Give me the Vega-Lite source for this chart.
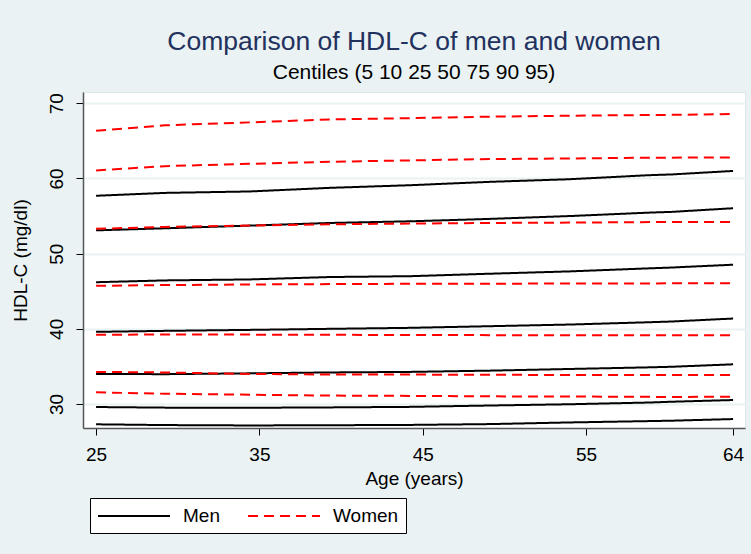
{
  "$schema": "https://vega.github.io/schema/vega-lite/v6.json",
  "width": 662,
  "height": 336,
  "autosize": {"type": "none"},
  "padding": {"left": 83, "top": 92, "right": 6, "bottom": 126},
  "background": "#EAF2F3",
  "title": {
    "text": "Comparison of HDL-C of men and women",
    "subtitle": "Centiles (5 10 25 50 75 90 95)",
    "font": "Liberation Sans, sans-serif",
    "subtitleFont": "Liberation Sans, sans-serif",
    "fontSize": 26.5,
    "fontWeight": "normal",
    "color": "#22315E",
    "subtitleFontSize": 21,
    "subtitleColor": "#000000",
    "subtitlePadding": 7,
    "anchor": "middle",
    "offset": 9
  },
  "config": {
    "view": {"fill": "#FFFFFF", "stroke": "#DDE7EA", "strokeWidth": 1},
    "font": "Liberation Sans, sans-serif",
    "axis": {
      "labelFont": "Liberation Sans, sans-serif",
      "titleFont": "Liberation Sans, sans-serif",
      "labelFontSize": 19,
      "titleFontSize": 19,
      "titleFontWeight": "normal",
      "labelColor": "#000000",
      "titleColor": "#000000",
      "domainColor": "#555555",
      "domainWidth": 1.5,
      "tickColor": "#000000",
      "tickSize": 7,
      "tickWidth": 1
    },
    "legend": {
      "labelFont": "Liberation Sans, sans-serif",
      "labelFontSize": 19,
      "labelColor": "#000000"
    }
  },
  "data": {
    "values": [
      {"sex": "Men", "centile": 95, "age": 25, "hdl": 57.7},
      {"sex": "Men", "centile": 95, "age": 29.2, "hdl": 58.08},
      {"sex": "Men", "centile": 95, "age": 34.4, "hdl": 58.27},
      {"sex": "Men", "centile": 95, "age": 39.3, "hdl": 58.75},
      {"sex": "Men", "centile": 95, "age": 44.2, "hdl": 59.1},
      {"sex": "Men", "centile": 95, "age": 49.1, "hdl": 59.55},
      {"sex": "Men", "centile": 95, "age": 54, "hdl": 59.9},
      {"sex": "Men", "centile": 95, "age": 58.9, "hdl": 60.44},
      {"sex": "Men", "centile": 95, "age": 60.2, "hdl": 60.53},
      {"sex": "Men", "centile": 95, "age": 64, "hdl": 61.0},
      {"sex": "Men", "centile": 90, "age": 25, "hdl": 53.1},
      {"sex": "Men", "centile": 90, "age": 29.2, "hdl": 53.37},
      {"sex": "Men", "centile": 90, "age": 34.4, "hdl": 53.73},
      {"sex": "Men", "centile": 90, "age": 39.3, "hdl": 54.08},
      {"sex": "Men", "centile": 90, "age": 44.2, "hdl": 54.3},
      {"sex": "Men", "centile": 90, "age": 49.1, "hdl": 54.62},
      {"sex": "Men", "centile": 90, "age": 54, "hdl": 55.0},
      {"sex": "Men", "centile": 90, "age": 58.9, "hdl": 55.46},
      {"sex": "Men", "centile": 90, "age": 60.2, "hdl": 55.55},
      {"sex": "Men", "centile": 90, "age": 64, "hdl": 56.04},
      {"sex": "Men", "centile": 75, "age": 25, "hdl": 46.2},
      {"sex": "Men", "centile": 75, "age": 29.2, "hdl": 46.44},
      {"sex": "Men", "centile": 75, "age": 34.4, "hdl": 46.57},
      {"sex": "Men", "centile": 75, "age": 39.3, "hdl": 46.89},
      {"sex": "Men", "centile": 75, "age": 44.2, "hdl": 47.0},
      {"sex": "Men", "centile": 75, "age": 49.1, "hdl": 47.33},
      {"sex": "Men", "centile": 75, "age": 54, "hdl": 47.64},
      {"sex": "Men", "centile": 75, "age": 58.9, "hdl": 48.05},
      {"sex": "Men", "centile": 75, "age": 60.2, "hdl": 48.15},
      {"sex": "Men", "centile": 75, "age": 64, "hdl": 48.53},
      {"sex": "Men", "centile": 50, "age": 25, "hdl": 39.6},
      {"sex": "Men", "centile": 50, "age": 29.2, "hdl": 39.73},
      {"sex": "Men", "centile": 50, "age": 34.4, "hdl": 39.86},
      {"sex": "Men", "centile": 50, "age": 39.3, "hdl": 40.0},
      {"sex": "Men", "centile": 50, "age": 44.2, "hdl": 40.13},
      {"sex": "Men", "centile": 50, "age": 49.1, "hdl": 40.35},
      {"sex": "Men", "centile": 50, "age": 54, "hdl": 40.57},
      {"sex": "Men", "centile": 50, "age": 58.9, "hdl": 40.88},
      {"sex": "Men", "centile": 50, "age": 60.2, "hdl": 40.97},
      {"sex": "Men", "centile": 50, "age": 64, "hdl": 41.37},
      {"sex": "Men", "centile": 25, "age": 25, "hdl": 34.0},
      {"sex": "Men", "centile": 25, "age": 29.2, "hdl": 33.97},
      {"sex": "Men", "centile": 25, "age": 34.4, "hdl": 34.08},
      {"sex": "Men", "centile": 25, "age": 39.3, "hdl": 34.2},
      {"sex": "Men", "centile": 25, "age": 44.2, "hdl": 34.27},
      {"sex": "Men", "centile": 25, "age": 49.1, "hdl": 34.44},
      {"sex": "Men", "centile": 25, "age": 54, "hdl": 34.66},
      {"sex": "Men", "centile": 25, "age": 58.9, "hdl": 34.88},
      {"sex": "Men", "centile": 25, "age": 60.2, "hdl": 34.95},
      {"sex": "Men", "centile": 25, "age": 64, "hdl": 35.28},
      {"sex": "Men", "centile": 10, "age": 25, "hdl": 29.6},
      {"sex": "Men", "centile": 10, "age": 29.2, "hdl": 29.52},
      {"sex": "Men", "centile": 10, "age": 34.4, "hdl": 29.5},
      {"sex": "Men", "centile": 10, "age": 39.3, "hdl": 29.55},
      {"sex": "Men", "centile": 10, "age": 44.2, "hdl": 29.62},
      {"sex": "Men", "centile": 10, "age": 49.1, "hdl": 29.8},
      {"sex": "Men", "centile": 10, "age": 54, "hdl": 29.97},
      {"sex": "Men", "centile": 10, "age": 58.9, "hdl": 30.2},
      {"sex": "Men", "centile": 10, "age": 60.2, "hdl": 30.3},
      {"sex": "Men", "centile": 10, "age": 64, "hdl": 30.53},
      {"sex": "Men", "centile": 5, "age": 25, "hdl": 27.3},
      {"sex": "Men", "centile": 5, "age": 29.2, "hdl": 27.2},
      {"sex": "Men", "centile": 5, "age": 34.4, "hdl": 27.15},
      {"sex": "Men", "centile": 5, "age": 39.3, "hdl": 27.18},
      {"sex": "Men", "centile": 5, "age": 44.2, "hdl": 27.22},
      {"sex": "Men", "centile": 5, "age": 49.1, "hdl": 27.33},
      {"sex": "Men", "centile": 5, "age": 54, "hdl": 27.55},
      {"sex": "Men", "centile": 5, "age": 58.9, "hdl": 27.73},
      {"sex": "Men", "centile": 5, "age": 60.2, "hdl": 27.78},
      {"sex": "Men", "centile": 5, "age": 64, "hdl": 28.0},
      {"sex": "Women", "centile": 95, "age": 25, "hdl": 66.35},
      {"sex": "Women", "centile": 95, "age": 29.2, "hdl": 67.07},
      {"sex": "Women", "centile": 95, "age": 34.4, "hdl": 67.46},
      {"sex": "Women", "centile": 95, "age": 39.3, "hdl": 67.85},
      {"sex": "Women", "centile": 95, "age": 44.2, "hdl": 68.02},
      {"sex": "Women", "centile": 95, "age": 49.1, "hdl": 68.22},
      {"sex": "Women", "centile": 95, "age": 54, "hdl": 68.35},
      {"sex": "Women", "centile": 95, "age": 58.9, "hdl": 68.44},
      {"sex": "Women", "centile": 95, "age": 60.2, "hdl": 68.46},
      {"sex": "Women", "centile": 95, "age": 64, "hdl": 68.57},
      {"sex": "Women", "centile": 90, "age": 25, "hdl": 61.07},
      {"sex": "Women", "centile": 90, "age": 29.2, "hdl": 61.64},
      {"sex": "Women", "centile": 90, "age": 34.4, "hdl": 61.95},
      {"sex": "Women", "centile": 90, "age": 39.3, "hdl": 62.22},
      {"sex": "Women", "centile": 90, "age": 44.2, "hdl": 62.4},
      {"sex": "Women", "centile": 90, "age": 49.1, "hdl": 62.58},
      {"sex": "Women", "centile": 90, "age": 54, "hdl": 62.66},
      {"sex": "Women", "centile": 90, "age": 58.9, "hdl": 62.76},
      {"sex": "Women", "centile": 90, "age": 60.2, "hdl": 62.77},
      {"sex": "Women", "centile": 90, "age": 64, "hdl": 62.8},
      {"sex": "Women", "centile": 75, "age": 25, "hdl": 53.3},
      {"sex": "Women", "centile": 75, "age": 29.2, "hdl": 53.55},
      {"sex": "Women", "centile": 75, "age": 34.4, "hdl": 53.73},
      {"sex": "Women", "centile": 75, "age": 39.3, "hdl": 53.9},
      {"sex": "Women", "centile": 75, "age": 44.2, "hdl": 54.0},
      {"sex": "Women", "centile": 75, "age": 49.1, "hdl": 54.08},
      {"sex": "Women", "centile": 75, "age": 54, "hdl": 54.13},
      {"sex": "Women", "centile": 75, "age": 58.9, "hdl": 54.2},
      {"sex": "Women", "centile": 75, "age": 60.2, "hdl": 54.21},
      {"sex": "Women", "centile": 75, "age": 64, "hdl": 54.22},
      {"sex": "Women", "centile": 50, "age": 25, "hdl": 45.72},
      {"sex": "Women", "centile": 50, "age": 29.2, "hdl": 45.82},
      {"sex": "Women", "centile": 50, "age": 34.4, "hdl": 45.9},
      {"sex": "Women", "centile": 50, "age": 39.3, "hdl": 45.95},
      {"sex": "Women", "centile": 50, "age": 44.2, "hdl": 45.99},
      {"sex": "Women", "centile": 50, "age": 49.1, "hdl": 46.0},
      {"sex": "Women", "centile": 50, "age": 54, "hdl": 46.03},
      {"sex": "Women", "centile": 50, "age": 58.9, "hdl": 46.04},
      {"sex": "Women", "centile": 50, "age": 60.2, "hdl": 46.05},
      {"sex": "Women", "centile": 50, "age": 64, "hdl": 46.08},
      {"sex": "Women", "centile": 25, "age": 25, "hdl": 39.22},
      {"sex": "Women", "centile": 25, "age": 29.2, "hdl": 39.24},
      {"sex": "Women", "centile": 25, "age": 34.4, "hdl": 39.23},
      {"sex": "Women", "centile": 25, "age": 39.3, "hdl": 39.2},
      {"sex": "Women", "centile": 25, "age": 44.2, "hdl": 39.19},
      {"sex": "Women", "centile": 25, "age": 49.1, "hdl": 39.16},
      {"sex": "Women", "centile": 25, "age": 54, "hdl": 39.15},
      {"sex": "Women", "centile": 25, "age": 58.9, "hdl": 39.15},
      {"sex": "Women", "centile": 25, "age": 60.2, "hdl": 39.15},
      {"sex": "Women", "centile": 25, "age": 64, "hdl": 39.15},
      {"sex": "Women", "centile": 10, "age": 25, "hdl": 34.27},
      {"sex": "Women", "centile": 10, "age": 29.2, "hdl": 34.2},
      {"sex": "Women", "centile": 10, "age": 34.4, "hdl": 34.0},
      {"sex": "Women", "centile": 10, "age": 39.3, "hdl": 33.92},
      {"sex": "Women", "centile": 10, "age": 44.2, "hdl": 33.92},
      {"sex": "Women", "centile": 10, "age": 49.1, "hdl": 33.88},
      {"sex": "Women", "centile": 10, "age": 54, "hdl": 33.87},
      {"sex": "Women", "centile": 10, "age": 58.9, "hdl": 33.87},
      {"sex": "Women", "centile": 10, "age": 60.2, "hdl": 33.87},
      {"sex": "Women", "centile": 10, "age": 64, "hdl": 33.87},
      {"sex": "Women", "centile": 5, "age": 25, "hdl": 31.55},
      {"sex": "Women", "centile": 5, "age": 29.2, "hdl": 31.37},
      {"sex": "Women", "centile": 5, "age": 34.4, "hdl": 31.24},
      {"sex": "Women", "centile": 5, "age": 39.3, "hdl": 31.12},
      {"sex": "Women", "centile": 5, "age": 44.2, "hdl": 31.08},
      {"sex": "Women", "centile": 5, "age": 49.1, "hdl": 31.02},
      {"sex": "Women", "centile": 5, "age": 54, "hdl": 31.0},
      {"sex": "Women", "centile": 5, "age": 58.9, "hdl": 30.95},
      {"sex": "Women", "centile": 5, "age": 60.2, "hdl": 30.94},
      {"sex": "Women", "centile": 5, "age": 64, "hdl": 30.97}
    ]
  },
  "mark": {"type": "line", "strokeWidth": 2, "clip": true},
  "encoding": {
    "x": {
      "field": "age",
      "type": "quantitative",
      "scale": {"domain": [24.2, 64.73], "nice": false, "zero": false},
      "axis": {
        "title": "Age (years)",
        "values": [25, 35, 45, 55, 64],
        "grid": false,
        "labelPadding": 10,
        "titlePadding": 5,
        "labelFlush": false
      }
    },
    "y": {
      "field": "hdl",
      "type": "quantitative",
      "scale": {"domain": [26.81, 71.5], "nice": false, "zero": false},
      "axis": {
        "title": "HDL-C (mg/dl)",
        "values": [30, 40, 50, 60, 70],
        "grid": true,
        "gridColor": "#EAF2F3",
        "gridWidth": 2,
        "labelAngle": -90,
        "labelAlign": "center",
        "labelBaseline": "alphabetic",
        "labelPadding": 14,
        "titlePadding": 17,
        "labelFlush": false
      }
    },
    "color": {
      "field": "sex",
      "type": "nominal",
      "scale": {"domain": ["Men", "Women"], "range": ["#000000", "#FF0000"]},
      "legend": {
        "title": null,
        "orient": "none",
        "legendX": 7,
        "legendY": 406,
        "direction": "horizontal",
        "strokeColor": "#000000",
        "fillColor": "#FFFFFF",
        "padding": 7,
        "symbolType": "M-1,0H6.2",
        "symbolSize": 400,
        "symbolStrokeWidth": 2,
        "labelOffset": 64,
        "columnPadding": 24
      }
    },
    "strokeDash": {
      "field": "sex",
      "type": "nominal",
      "scale": {"domain": ["Men", "Women"], "range": [[1, 0], [10, 6]]},
      "legend": null
    },
    "detail": {"field": "centile", "type": "nominal"}
  }
}
